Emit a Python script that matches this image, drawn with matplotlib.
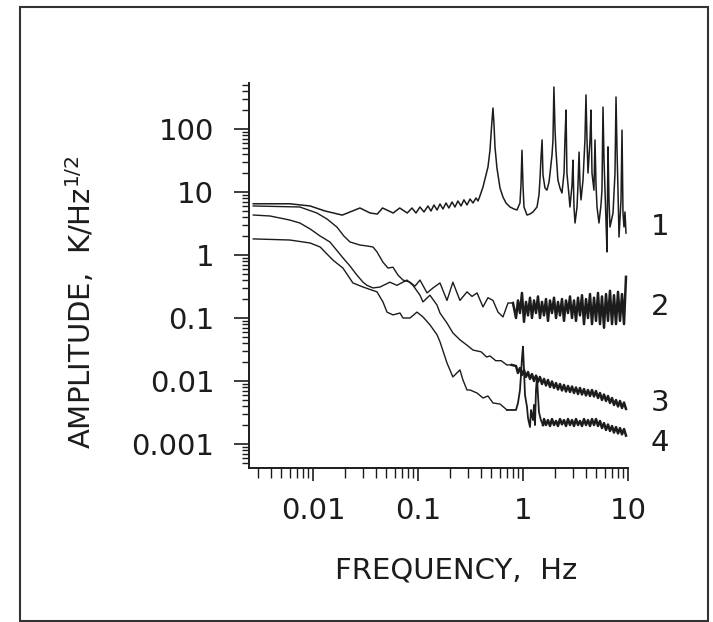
import numpy as np
import matplotlib
matplotlib.use("Agg")
import matplotlib.pyplot as plt
from matplotlib.ticker import FixedLocator, FixedFormatter, LogLocator, NullFormatter
from matplotlib.patches import Rectangle

# --- values (Hz, K/Hz^1/2) ---

# shared frequency grid used for the dense/noisy high-frequency bands
f_band = [0.858, 0.896, 0.936, 0.978, 1.022, 1.068, 1.116, 1.166, 1.218, 1.273,
          1.330, 1.389, 1.451, 1.517, 1.585, 1.656, 1.730, 1.808, 1.889, 1.974,
          2.063, 2.154, 2.251, 2.352, 2.457, 2.567, 2.683, 2.803, 2.929, 3.060,
          3.197, 3.340, 3.490, 3.647, 3.810, 3.981, 4.159, 4.346, 4.541, 4.745,
          4.957, 5.179, 5.412, 5.654, 5.908, 6.173, 6.449, 6.739, 7.041, 7.356,
          7.686, 8.031, 8.391, 8.767, 9.160, 9.571]

# curve 1
c1_freq = [0.0027, 0.006, 0.0094, 0.013, 0.019,
           0.028, 0.035, 0.041, 0.046, 0.058, 0.067, 0.079,
           0.0877, 0.0957, 0.1045, 0.114, 0.1245, 0.133, 0.142, 0.152,
           0.162, 0.173, 0.185, 0.197, 0.211, 0.225, 0.240, 0.257,
           0.274, 0.293, 0.313, 0.334, 0.357, 0.373, 0.389,
           0.416, 0.444, 0.464, 0.485, 0.507, 0.518, 0.530, 0.541,
           0.565, 0.604, 0.645, 0.689, 0.752, 0.821, 0.877,
           0.936, 0.957, 0.978, 1.0, 1.022,
           1.092, 1.166, 1.245, 1.36, 1.42,
           1.45, 1.48, 1.52, 1.55, 1.62, 1.69,
           1.77, 1.81, 1.89, 1.93, 1.97, 2.02,
           2.06, 2.15, 2.25, 2.35, 2.46, 2.51,
           2.57, 2.62, 2.74, 2.80, 2.93, 2.99,
           3.06, 3.13, 3.27, 3.34, 3.42, 3.49,
           3.57, 3.73, 3.89, 3.98, 4.07, 4.16,
           4.35, 4.44, 4.54, 4.74, 4.85, 4.96,
           5.07, 5.29, 5.53, 5.65, 5.78, 5.91,
           6.04, 6.17, 6.31, 6.45, 6.59, 6.74,
           7.2, 7.52, 7.69, 7.86, 8.03, 8.21,
           8.58, 8.77, 8.96, 9.16, 9.36, 9.57]
c1_amp = [6.5, 6.5, 6.0, 5.0, 4.3,
          5.57, 4.64, 4.47, 5.57, 4.64, 5.57, 4.64,
          5.57, 4.64, 5.78, 4.82, 6.0, 4.99, 6.22, 5.18,
          6.45, 5.37, 6.69, 5.57, 6.94, 5.78, 7.2, 6.0,
          7.5, 6.22, 7.74, 6.69, 8.03, 7.2, 8.64,
          12.0, 18.6, 24.9, 46, 138, 215, 116, 52,
          24, 11.6, 8.3, 6.7, 5.78, 5.37, 5.18,
          6.7, 12.9, 46, 12.9, 5.78,
          4.31, 4.47, 4.82, 5.78, 9.0,
          15.5, 32, 67, 18.6, 11.6, 10.7,
          14.4, 20, 38.7, 67, 464, 96,
          46, 15.5, 11.6, 9.64, 20, 67,
          200, 20, 9.0, 5.78, 12.9, 32,
          5.78, 3.22, 5.78, 12.9, 43, 12.9,
          7.5, 15.5, 67, 347, 67, 20,
          67, 200, 20, 10.7, 67, 12.9,
          5.78, 3.22, 6.22, 10.7, 223, 32,
          10.7, 3.59, 1.12, 52, 7.5, 2.78,
          4.64, 20, 322, 46, 10.7, 1.93,
          7.5, 96, 4.64, 2.78, 4.82, 2.23]

# curve 2
c2_freq_low = [0.0027, 0.0075, 0.0109, 0.0136, 0.0169, 0.0197, 0.0225, 0.028, 0.0327, 0.0373,
               0.0407, 0.0464, 0.0518, 0.0578, 0.0645, 0.072, 0.084, 0.0936, 0.1045, 0.122,
               0.139, 0.162, 0.189, 0.215, 0.251, 0.293, 0.327, 0.365, 0.416, 0.464,
               0.518, 0.578, 0.645, 0.72, 0.803]
c2_amp_low = [6.0, 5.78, 4.64, 3.73, 2.78, 2.0, 1.61, 1.44, 1.39, 1.34,
              1.12, 0.77, 0.62, 0.64, 0.48, 0.40, 0.37, 0.32, 0.40, 0.25,
              0.30, 0.36, 0.19, 0.37, 0.19, 0.26, 0.22, 0.25, 0.15, 0.21,
              0.19, 0.124, 0.104, 0.173, 0.173]
c2_amp_band = [0.10, 0.19, 0.12, 0.25, 0.087, 0.18, 0.11, 0.21, 0.10, 0.19,
               0.12, 0.22, 0.10, 0.18, 0.11, 0.20, 0.09, 0.19, 0.12, 0.21,
               0.10, 0.18, 0.11, 0.20, 0.09, 0.19, 0.12, 0.22, 0.10, 0.19,
               0.09, 0.21, 0.11, 0.23, 0.08, 0.20, 0.10, 0.24, 0.08, 0.21,
               0.09, 0.25, 0.08, 0.22, 0.07, 0.24, 0.09, 0.27, 0.08, 0.23,
               0.08, 0.26, 0.09, 0.24, 0.08, 0.45]

# curve 3
c3_freq_low = [0.0027, 0.0039, 0.006, 0.0075, 0.0094, 0.0117, 0.0145, 0.0193, 0.0225, 0.0262,
               0.030, 0.0327, 0.0373, 0.0435, 0.054, 0.063, 0.0786, 0.0896, 0.1045, 0.1116,
               0.130, 0.152, 0.162, 0.189, 0.215, 0.251, 0.293, 0.334, 0.40, 0.45,
               0.485, 0.55, 0.62, 0.70, 0.78]
c3_amp_low = [4.31, 4.16, 3.59, 3.22, 2.59, 2.0, 1.61, 0.90, 0.67, 0.48,
              0.37, 0.33, 0.30, 0.31, 0.37, 0.33, 0.40, 0.33, 0.23, 0.18,
              0.23, 0.16, 0.12, 0.083, 0.058, 0.045, 0.037, 0.031, 0.029, 0.024,
              0.025, 0.021, 0.021, 0.018, 0.018]
c3_amp_band = [0.0173, 0.0134, 0.0161, 0.0125, 0.0150, 0.0116, 0.0139, 0.0108, 0.0129, 0.0100,
               0.0122, 0.00964, 0.0116, 0.00896, 0.0108, 0.00849, 0.0104, 0.00803, 0.00982, 0.00775,
               0.00929, 0.00733, 0.00896, 0.00707, 0.00865, 0.00681, 0.00834, 0.00669, 0.00818, 0.00645,
               0.00789, 0.00622, 0.00775, 0.00611, 0.00746, 0.00589, 0.00720, 0.00578, 0.00720, 0.00568,
               0.00694, 0.00537, 0.00645, 0.00499, 0.00611, 0.00482, 0.00578, 0.00448, 0.00537, 0.00416,
               0.00499, 0.00394, 0.00482, 0.00373, 0.00456, 0.00360]

# curve 4
c4_freq_low = [0.0027, 0.006, 0.0094, 0.0117, 0.0155, 0.0193, 0.024, 0.030, 0.0407, 0.0464,
               0.0507, 0.0578, 0.0674, 0.072, 0.084, 0.0978, 0.1116, 0.130, 0.152, 0.162,
               0.189, 0.215, 0.251, 0.268, 0.293, 0.313, 0.365, 0.416, 0.464, 0.518,
               0.604, 0.704]
c4_amp_low = [1.80, 1.73, 1.55, 1.34, 0.83, 0.62, 0.36, 0.31, 0.26, 0.18,
              0.124, 0.112, 0.12, 0.10, 0.10, 0.124, 0.104, 0.078, 0.054, 0.042,
              0.0193, 0.0116, 0.0150, 0.0104, 0.0072, 0.0072, 0.00645, 0.00537, 0.00578, 0.00448,
              0.00431, 0.00347]
c4_freq_peak = [0.858, 0.896, 0.936, 0.957, 0.978, 1.0, 1.022, 1.045, 1.092, 1.116,
                1.166, 1.192, 1.245, 1.273, 1.301, 1.33, 1.36, 1.389, 1.42, 1.48, 1.55]
c4_amp_peak = [0.00347, 0.00448, 0.0072, 0.0125, 0.0230, 0.035, 0.0150, 0.0060, 0.00387, 0.00259,
               0.00186, 0.00347, 0.0024, 0.00416, 0.0020, 0.0072, 0.0116, 0.0060, 0.00322, 0.0024,
               0.0020]
c4_amp_band = [0.00249, 0.00200, 0.00240, 0.00193, 0.00249, 0.00200, 0.00232, 0.00193, 0.00249, 0.00205,
               0.00240, 0.00193, 0.00249, 0.00200, 0.00240, 0.00193, 0.00249, 0.00200, 0.00232, 0.00193,
               0.00249, 0.00200, 0.00240, 0.00193, 0.00249, 0.00200,
               0.00249, 0.00193, 0.00232, 0.00179, 0.00215, 0.00167, 0.00204, 0.00161, 0.00193, 0.00152,
               0.00186, 0.00147, 0.00179, 0.00142, 0.00173, 0.00136]

curve_names = ["1", "2", "3", "4"]
label_amp = [2.78, 0.15, 0.0045, 0.00103]

x_ticks = [0.01, 0.1, 1, 10]
x_ticklabels = ["0.01", "0.1", "1", "10"]
y_ticks = [0.001, 0.01, 0.1, 1, 10, 100]
y_ticklabels = ["0.001", "0.01", "0.1", "1", "10", "100"]

ink = "#1c1c1c"
fig = plt.figure(figsize=(7.13, 6.22), dpi=100)
ax = fig.add_axes([249 / 713, 1 - 468 / 622, (628 - 249) / 713, (468 - 83) / 622])

# smooth/low-frequency parts: thin line
ax.plot(c1_freq, c1_amp, color=ink, lw=1.1)
ax.plot(c2_freq_low, c2_amp_low, color=ink, lw=1.0)
ax.plot(c3_freq_low, c3_amp_low, color=ink, lw=1.0)
ax.plot(c4_freq_low, c4_amp_low, color=ink, lw=1.0)
ax.plot([c4_freq_low[-1]] + c4_freq_peak, [c4_amp_low[-1]] + c4_amp_peak, color=ink, lw=1.3)

# noisy high-frequency bands: heavy line so the zigzag fills in
ax.plot([c2_freq_low[-1]] + f_band, [c2_amp_low[-1]] + c2_amp_band, color=ink, lw=1.8)
ax.plot([c3_freq_low[-1]] + f_band, [c3_amp_low[-1]] + c3_amp_band, color=ink, lw=1.8)
ax.plot([c4_freq_peak[-1]] + f_band[14:], [c4_amp_peak[-1]] + c4_amp_band, color=ink, lw=1.8)

ax.set_xscale("log")
ax.set_yscale("log")
ax.set_xlim(0.00246, 10)
ax.set_ylim(0.000416, 537)

for side in ["top", "right"]:
    ax.spines[side].set_visible(False)
for side in ["left", "bottom"]:
    ax.spines[side].set_linewidth(1.4)
    ax.spines[side].set_color(ink)

ax.xaxis.set_major_locator(FixedLocator(x_ticks))
ax.xaxis.set_major_formatter(FixedFormatter(x_ticklabels))
ax.yaxis.set_major_locator(FixedLocator(y_ticks))
ax.yaxis.set_major_formatter(FixedFormatter(y_ticklabels))
ax.xaxis.set_minor_locator(LogLocator(base=10, subs=np.arange(2, 10), numticks=20))
ax.yaxis.set_minor_locator(LogLocator(base=10, subs=np.arange(2, 10), numticks=20))
ax.xaxis.set_minor_formatter(NullFormatter())
ax.yaxis.set_minor_formatter(NullFormatter())

ax.tick_params(axis="y", which="major", direction="out", length=11, width=1.2,
               pad=14, labelsize=21, colors=ink)
ax.tick_params(axis="y", which="minor", direction="out", length=5, width=1.0, colors=ink)
ax.tick_params(axis="x", which="major", direction="out", length=9, width=1.2,
               pad=12, labelsize=21, colors=ink)
ax.tick_params(axis="x", which="minor", direction="out", length=7, width=1.0, colors=ink)

for name, yv in zip(curve_names, label_amp):
    ax.text(20.2, yv, name, fontsize=21, color=ink, ha="center", va="center", clip_on=False)

fig.text(456 / 713, 1 - 570 / 622, "FREQUENCY,  Hz", fontsize=21, color=ink,
         ha="center", va="center")
fig.text(81 / 713, 1 - 302 / 622, "AMPLITUDE,  K/Hz$^{1/2}$", fontsize=21, color=ink,
         ha="center", va="center", rotation=90)

fig.patches.append(Rectangle((20 / 713, 1 - 621 / 622), 688 / 713, 614 / 622,
                             transform=fig.transFigure, fill=False, lw=1.5, ec="#333333"))

fig.savefig("out.png", dpi=100)
